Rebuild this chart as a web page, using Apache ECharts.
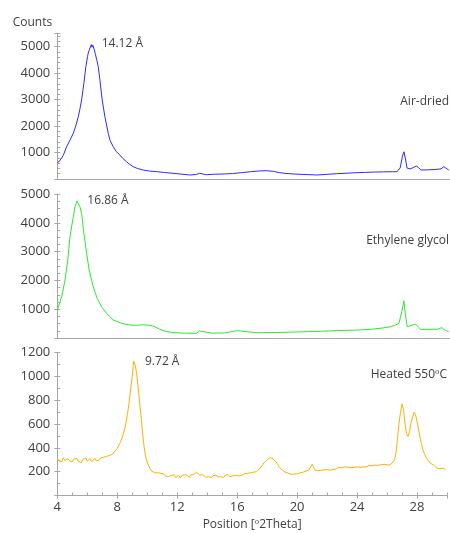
<!DOCTYPE html>
<html><head><meta charset="utf-8">
<script src="https://cdn.jsdelivr.net/npm/echarts@6/dist/echarts.min.js"></script>
<style>html,body{margin:0;padding:0;background:#fff}#c{width:450px;height:533px}</style>
</head><body><div id="c"></div><script>
// Position [º2Theta], Counts
const airDried = [[4.0,600],[4.2,720],[4.4,900],[4.62,1225],[4.85,1480],[5.06,1730],[5.25,2050],[5.39,2360],[5.5,2650],[5.61,2990],[5.76,3620],[5.89,4250],[6.0,4620],[6.05,4760],[6.12,4880],[6.2,4950],[6.25,5080],[6.3,4980],[6.35,5060],[6.38,5010],[6.45,4880],[6.53,4700],[6.62,4480],[6.71,4250],[6.82,3750],[6.97,2990],[7.15,2360],[7.37,1730],[7.5,1450],[7.7,1225],[7.9,1040],[8.14,910],[8.35,770],[8.58,655],[8.8,550],[9.02,466],[9.3,400],[9.68,340],[10.1,300],[10.56,278],[11.1,245],[11.66,215],[12.2,185],[12.76,152],[13.2,170],[13.42,215],[13.55,175],[13.86,163],[14.4,180],[15.07,190],[15.6,205],[16.2,240],[16.8,275],[17.4,305],[17.84,314],[18.3,290],[18.7,240],[19.03,216],[19.6,190],[20.4,170],[21.2,152],[21.8,175],[22.5,200],[23.2,220],[23.85,240],[24.4,250],[25.0,262],[25.6,270],[26.2,275],[26.49,277],[26.7,420],[26.85,860],[26.95,1030],[27.05,760],[27.15,417],[27.35,380],[27.6,440],[27.76,492],[27.9,440],[28.07,341],[28.5,345],[29.0,360],[29.4,380],[29.59,466],[29.75,400],[29.92,341]];

const ethyleneGlycol = [[4.0,960],[4.07,995],[4.29,1433],[4.51,2012],[4.69,2706],[4.84,3514],[5.02,4093],[5.17,4555],[5.25,4680],[5.3,4760],[5.35,4700],[5.42,4720],[5.5,4555],[5.61,4325],[5.76,3630],[5.94,2938],[6.11,2359],[6.38,1780],[6.64,1376],[6.93,1086],[7.26,856],[7.7,624],[8.25,509],[8.8,451],[9.1,440],[9.46,451],[9.8,455],[10.12,440],[10.45,393],[10.78,302],[11.2,230],[11.66,184],[12.4,170],[13.2,163],[13.42,243],[13.55,175],[14.2,170],[15.07,175],[15.5,220],[15.95,254],[16.5,220],[17.27,184],[18.5,190],[19.5,205],[20.57,219],[21.5,235],[22.5,255],[23.87,277],[24.8,305],[25.5,345],[26.07,393],[26.4,450],[26.62,509],[26.8,900],[26.95,1294],[27.05,800],[27.17,393],[27.35,420],[27.72,486],[27.9,380],[28.05,302],[28.6,300],[29.2,305],[29.45,360],[29.59,302],[29.75,250],[29.92,219]];

// Heated 550ºC: counts read every 0.1º2Theta starting at 4.0
const heatedStart = 4.0;
const heatedStep = 0.1;
const heatedCounts = [
 312,290,305,285,318,296,280,310,292,300,
 284,306,295,312,288,300,276,302,296,315,
 290,298,308,284,300,312,292,305,298,316,
 300,322,310,330,318,336,342,350,366,380,
 398,420,446,480,515,560,620,700,790,900,
 1000,1130,1095,1020,900,770,650,510,400,320,
 280,248,225,205,198,190,184,192,178,186,
 170,182,165,176,160,172,168,158,175,150,
 162,170,148,166,158,176,160,168,150,172,
 162,178,165,196,188,172,160,174,166,155,
 170,158,165,150,168,160,172,155,164,158,
 160,152,170,162,175,158,168,165,178,170,
 172,165,180,168,176,184,172,186,180,190,
 184,196,188,200,212,226,240,258,276,290,
 300,306,318,312,308,298,282,262,240,225,
 214,205,196,200,188,192,178,186,180,190,
 182,176,190,185,196,192,205,200,215,230,
 262,240,214,220,208,218,212,225,216,222,
 218,228,212,226,220,234,222,230,236,224,
 232,226,240,230,238,248,234,242,236,245,
 240,250,236,246,242,255,240,248,252,244,
 250,242,256,248,254,246,258,250,262,255,
 258,264,256,270,282,300,360,480,610,700,
 770,720,600,520,495,540,610,660,700,680,
 620,560,490,430,380,350,320,300,285,270,
 262,256,240,232,245,226,218,230,214,220
];

const xTickLabels = [4, 8, 12, 16, 20, 24, 28];
const yTicksTop = [1000, 2000, 3000, 4000, 5000];
const yTicksMid = [1000, 2000, 3000, 4000, 5000];
const yTicksBot = [200, 400, 600, 800, 1000, 1200];
const panelNames = ['Air-dried', 'Ethylene glycol', 'Heated 550ºC'];
const peakNames = ['14.12 Å', '16.86 Å', '9.72 Å'];
const seriesColors = ['#2b2bff', '#2ee82e', '#ffb000'];

const heated = heatedCounts.map((v, i) => [+(heatedStart + i * heatedStep).toFixed(2), v]);

const FONT = "'Open Sans', sans-serif";
const TXT = '#404040';
const AX = '#a6a6a6';

const grids = [
  {left: 57.3, top: 33.5, width: 393.9, height: 145.5},
  {left: 57.3, top: 194, width: 393.9, height: 144},
  {left: 57.3, top: 352.7, width: 393.9, height: 142.8}
];
const yCfg = [
  {max: 5500, interval: 1000, split: 5, labels: yTicksTop},
  {max: 5000, interval: 1000, split: 4, labels: yTicksMid},
  {max: 1200, interval: 200, split: 2, labels: yTicksBot}
];

const xAxis = [];
const yAxis = [];
for (let i = 0; i < 3; i++) {
  const bottom = i === 2;
  xAxis.push({
    type: 'value', gridIndex: i, min: 4, max: 30, interval: 4, position: 'bottom',
    axisLine: {show: true, lineStyle: {color: AX, width: 1}},
    axisTick: {show: bottom, inside: true, length: 3, lineStyle: {color: AX}},
    minorTick: {show: bottom, splitNumber: 4, length: 3, lineStyle: {color: AX}},
    splitLine: {show: false},
    axisLabel: {show: bottom, color: TXT, fontFamily: FONT, fontSize: 13, margin: 5,
      formatter: v => xTickLabels.includes(v) ? String(v) : ''},
    name: bottom ? 'Position [º2Theta]' : '',
    nameLocation: 'middle', nameGap: 23,
    nameTextStyle: {color: TXT, fontFamily: FONT, fontSize: 12}
  });
  const c = yCfg[i];
  yAxis.push({
    type: 'value', gridIndex: i, min: 0, max: c.max, interval: c.interval, position: 'left',
    axisLine: {show: true, lineStyle: {color: AX, width: 1}},
    axisTick: {show: true, inside: true, length: 3, lineStyle: {color: AX}},
    minorTick: {show: true, splitNumber: c.split, length: 3, lineStyle: {color: AX}},
    splitLine: {show: false},
    axisLabel: {color: TXT, fontFamily: FONT, fontSize: 13, margin: 7,
      formatter: v => c.labels.includes(v) ? String(v) : ''}
  });
}
// outward halves of major ticks (crossing ticks)
for (let i = 0; i < 3; i++) {
  const c = yCfg[i];
  yAxis.push({
    type: 'value', gridIndex: i, min: 0, max: c.max, interval: c.interval, position: 'left', offset: 0,
    axisLine: {show: false}, axisLabel: {show: false}, splitLine: {show: false},
    axisTick: {show: true, inside: false, length: 3, lineStyle: {color: AX}}
  });
}
xAxis.push({
  type: 'value', gridIndex: 2, min: 4, max: 30, interval: 4, position: 'bottom', offset: 0,
  axisLine: {show: false}, axisLabel: {show: false}, splitLine: {show: false},
  axisTick: {show: true, inside: false, length: 3, lineStyle: {color: AX}}
});

const datasets = [airDried, ethyleneGlycol, heated];
const series = datasets.map((d, i) => ({
  type: 'line', xAxisIndex: i, yAxisIndex: i, data: d,
  showSymbol: false, symbol: 'none', smooth: false,
  lineStyle: {color: seriesColors[i], width: 1}, animation: false
}));

const textStyle = (t, x, y, align) => ({
  type: 'text', x: x, y: y,
  style: {text: t, fill: TXT, font: '12px ' + FONT, textAlign: align || 'left', textVerticalAlign: 'middle'}
});

const graphic = [
  textStyle('Counts', 12.7, 22.7),
  textStyle(peakNames[0], 101.7, 44),
  textStyle(panelNames[0], 449, 101.7, 'right'),
  textStyle(peakNames[1], 87.3, 200.7),
  textStyle(panelNames[1], 449, 241, 'right'),
  textStyle(peakNames[2], 145, 361.7),
  textStyle(panelNames[2], 370.7, 374.3)
];

const chart = echarts.init(document.getElementById('c'), null, {renderer: 'canvas'});
chart.setOption({
  animation: false,
  backgroundColor: '#ffffff',
  grid: grids,
  xAxis: xAxis,
  yAxis: yAxis,
  series: series,
  graphic: graphic
});
</script></body></html>
